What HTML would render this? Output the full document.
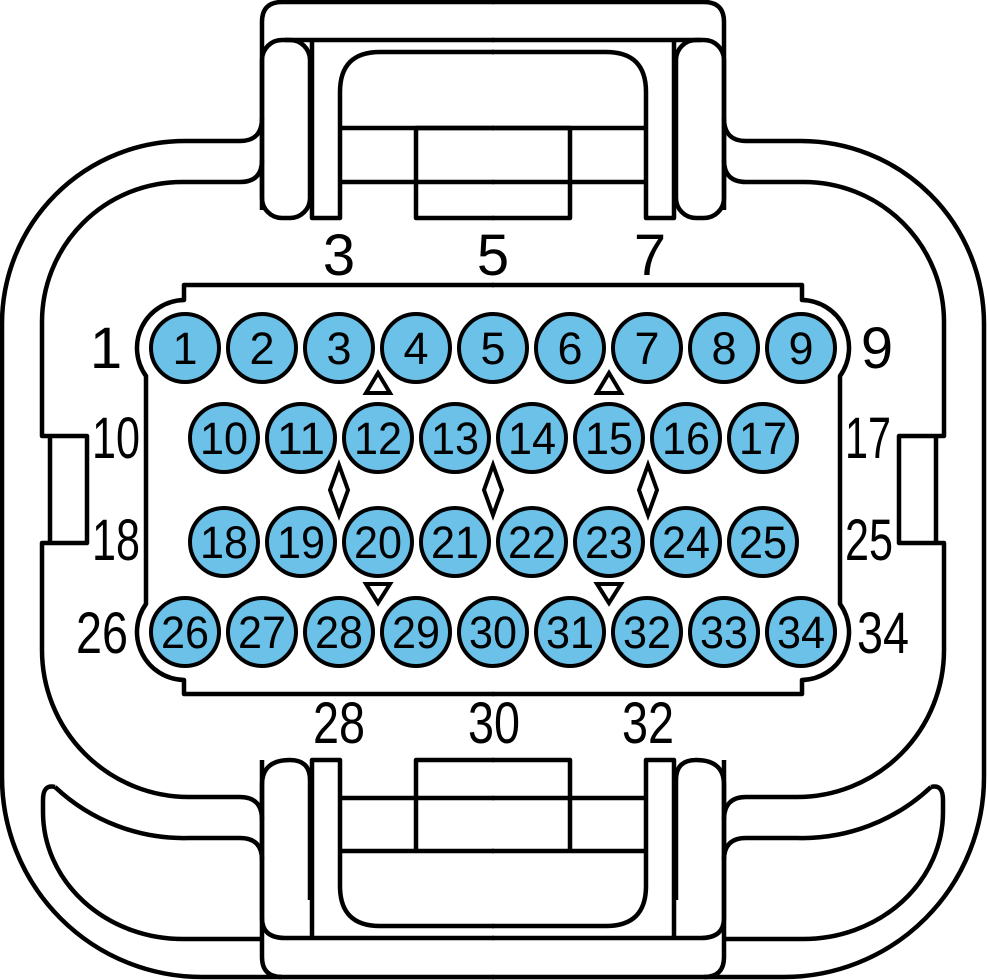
<!DOCTYPE html>
<html><head><meta charset="utf-8"><style>
html,body{margin:0;padding:0;background:#fff;}
svg{display:block;}
text{font-family:"Liberation Sans",Arial,sans-serif;fill:#000;}
</style></head><body>
<svg width="987" height="980" viewBox="0 0 987 980" xmlns="http://www.w3.org/2000/svg">
<defs>
<g id="half" fill="none" stroke="#000" stroke-width="4.5" stroke-linejoin="round">
  <!-- outer shell -->
  <path d="M262,118 Q262,141 240,141 H185 A183,183 0 0 0 2,324 V777 A200,200 0 0 0 202,977 H494"/>
  <!-- inner shell -->
  <path d="M262,160 Q262,182 240,182 H182 A140,140 0 0 0 42,322 V436 H87 V543 H42 V650 A147,147 0 0 0 189,797 H240 Q262,797 262,820"/>
  <line x1="50" y1="436" x2="50" y2="543"/>
  <!-- line B -->
  <path d="M55,787 A188,188 0 0 0 189,838 H240 Q262,838 262,860"/>
  <path d="M55,787 Q43,784 43,800 V812 A140,127 0 0 0 183,939 H262"/>
  <!-- top latch -->
  <path d="M262,210 V22 Q262,2 282,2 H494"/>
  <rect x="262" y="40" width="48" height="178" rx="20"/>
  <path d="M285,40 H494"/>
  <path d="M312,40 V218 H340 V92 Q340,52 380,52 H494"/>
  <path d="M340,128 H494 M340,182 H494"/>
  <path d="M494,128 H416 V218 H494"/>
  <!-- bottom latch -->
  <path d="M262,760 V957 Q262,977 282,977"/>
  <path d="M310,900 V780 Q310,760 290,760 Q262,760 262,785 V918 Q262,938 285,938 H494"/>
  <path d="M312,938 V760 H340 V886 Q340,926 380,926 H494"/>
  <path d="M340,798 H494 M340,851 H494"/>
  <path d="M494,760 H416 V851"/>
  <!-- face -->
  <path d="M494,285 H184 V300 A48,48 0 0 0 146,376 V604 A48,48 0 0 0 184,680 V694 H494"/>
</g>
</defs>
<use href="#half"/>
<use href="#half" transform="translate(986,0) scale(-1,1)"/>

<g fill="#6bc1e8" stroke="#000" stroke-width="4">
  <circle cx="185" cy="348" r="34"/><circle cx="262" cy="348" r="34"/><circle cx="339" cy="348" r="34"/><circle cx="416" cy="348" r="34"/><circle cx="493" cy="348" r="34"/><circle cx="570" cy="348" r="34"/><circle cx="647" cy="348" r="34"/><circle cx="724" cy="348" r="34"/><circle cx="801" cy="348" r="34"/>
  <circle cx="224" cy="438" r="34"/><circle cx="301" cy="438" r="34"/><circle cx="378" cy="438" r="34"/><circle cx="455" cy="438" r="34"/><circle cx="532" cy="438" r="34"/><circle cx="609" cy="438" r="34"/><circle cx="686" cy="438" r="34"/><circle cx="763" cy="438" r="34"/>
  <circle cx="224" cy="542" r="34"/><circle cx="301" cy="542" r="34"/><circle cx="378" cy="542" r="34"/><circle cx="455" cy="542" r="34"/><circle cx="532" cy="542" r="34"/><circle cx="609" cy="542" r="34"/><circle cx="686" cy="542" r="34"/><circle cx="763" cy="542" r="34"/>
  <circle cx="185" cy="632" r="34"/><circle cx="262" cy="632" r="34"/><circle cx="339" cy="632" r="34"/><circle cx="416" cy="632" r="34"/><circle cx="493" cy="632" r="34"/><circle cx="570" cy="632" r="34"/><circle cx="647" cy="632" r="34"/><circle cx="724" cy="632" r="34"/><circle cx="801" cy="632" r="34"/>
</g>

<g fill="#fff" stroke="#000" stroke-width="4" stroke-linejoin="miter">
  <path d="M378,373 L366,393 H390 Z"/><path d="M609,373 L597,393 H621 Z"/>
  <path d="M378,603 L366,584 H390 Z"/><path d="M609,603 L597,584 H621 Z"/>
  <path d="M339,465 L330,490 L339,515 L348,490 Z"/>
  <path d="M493,465 L484,490 L493,515 L502,490 Z"/>
  <path d="M648,465 L639,490 L648,515 L657,490 Z"/>
</g>

<g font-size="45" text-anchor="middle">
  <text x="185" y="364">1</text><text x="262" y="364">2</text><text x="339" y="364">3</text><text x="416" y="364">4</text><text x="493" y="364">5</text><text x="570" y="364">6</text><text x="647" y="364">7</text><text x="724" y="364">8</text><text x="801" y="364">9</text>
</g>
<g font-size="45" text-anchor="middle" lengthAdjust="spacingAndGlyphs">
  <text x="224" y="454" textLength="48" lengthAdjust="spacingAndGlyphs">10</text><text x="301" y="454" textLength="48" lengthAdjust="spacingAndGlyphs">11</text><text x="378" y="454" textLength="48" lengthAdjust="spacingAndGlyphs">12</text><text x="455" y="454" textLength="48" lengthAdjust="spacingAndGlyphs">13</text><text x="532" y="454" textLength="48" lengthAdjust="spacingAndGlyphs">14</text><text x="609" y="454" textLength="48" lengthAdjust="spacingAndGlyphs">15</text><text x="686" y="454" textLength="48" lengthAdjust="spacingAndGlyphs">16</text><text x="763" y="454" textLength="48" lengthAdjust="spacingAndGlyphs">17</text>
  <text x="224" y="558" textLength="48" lengthAdjust="spacingAndGlyphs">18</text><text x="301" y="558" textLength="48" lengthAdjust="spacingAndGlyphs">19</text><text x="378" y="558" textLength="48" lengthAdjust="spacingAndGlyphs">20</text><text x="455" y="558" textLength="48" lengthAdjust="spacingAndGlyphs">21</text><text x="532" y="558" textLength="48" lengthAdjust="spacingAndGlyphs">22</text><text x="609" y="558" textLength="48" lengthAdjust="spacingAndGlyphs">23</text><text x="686" y="558" textLength="48" lengthAdjust="spacingAndGlyphs">24</text><text x="763" y="558" textLength="48" lengthAdjust="spacingAndGlyphs">25</text>
  <text x="185" y="648" textLength="48" lengthAdjust="spacingAndGlyphs">26</text><text x="262" y="648" textLength="48" lengthAdjust="spacingAndGlyphs">27</text><text x="339" y="648" textLength="48" lengthAdjust="spacingAndGlyphs">28</text><text x="416" y="648" textLength="48" lengthAdjust="spacingAndGlyphs">29</text><text x="493" y="648" textLength="48" lengthAdjust="spacingAndGlyphs">30</text><text x="570" y="648" textLength="48" lengthAdjust="spacingAndGlyphs">31</text><text x="647" y="648" textLength="48" lengthAdjust="spacingAndGlyphs">32</text><text x="724" y="648" textLength="48" lengthAdjust="spacingAndGlyphs">33</text><text x="801" y="648" textLength="48" lengthAdjust="spacingAndGlyphs">34</text>
</g>

<g font-size="58" text-anchor="middle">
  <text x="339" y="275">3</text><text x="493" y="275">5</text><text x="650" y="275">7</text>
  <text x="106" y="368">1</text><text x="877" y="368">9</text>
  <text x="116" y="458" textLength="48" lengthAdjust="spacingAndGlyphs">10</text>
  <text x="868" y="458" textLength="46" lengthAdjust="spacingAndGlyphs">17</text>
  <text x="116" y="560" textLength="48" lengthAdjust="spacingAndGlyphs">18</text>
  <text x="869" y="560" textLength="48" lengthAdjust="spacingAndGlyphs">25</text>
  <text x="102" y="653" textLength="52" lengthAdjust="spacingAndGlyphs">26</text>
  <text x="883" y="653" textLength="52" lengthAdjust="spacingAndGlyphs">34</text>
  <text x="339" y="743" textLength="52" lengthAdjust="spacingAndGlyphs">28</text>
  <text x="494" y="743" textLength="52" lengthAdjust="spacingAndGlyphs">30</text>
  <text x="648" y="743" textLength="52" lengthAdjust="spacingAndGlyphs">32</text>
</g>
</svg>
</body></html>
